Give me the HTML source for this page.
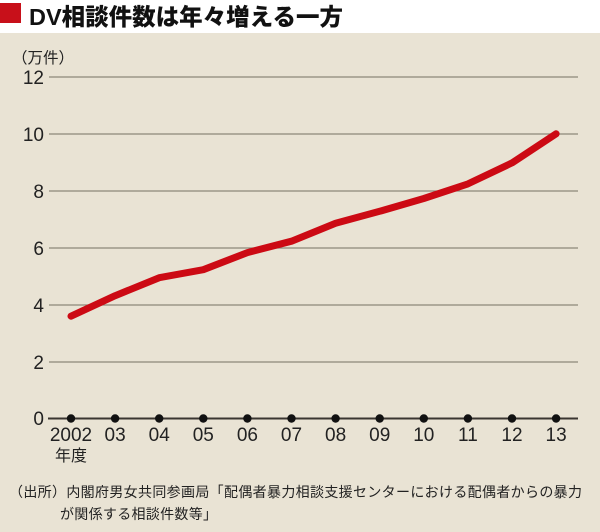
<!DOCTYPE html>
<html><head><meta charset="utf-8">
<style>
html,body{margin:0;padding:0;}
body{width:600px;height:532px;overflow:hidden;background:#e9e3d4;}
svg{display:block;}
</style></head>
<body>
<svg width="600" height="532" viewBox="0 0 600 532" xmlns="http://www.w3.org/2000/svg">
<rect x="0" y="0" width="600" height="532" fill="#e9e3d4"/>
<rect x="0" y="0" width="600" height="33" fill="#ffffff"/>
<rect x="0" y="3" width="21" height="20" fill="#c8101a"/>
<text x="29" y="25" font-family="'Liberation Sans','Noto Sans CJK JP',sans-serif" font-weight="900" font-size="23.5" fill="#111">DV相談件数は年々増える一方</text>

<text x="12" y="63" font-family="'Liberation Sans','Noto Sans CJK JP',sans-serif" font-size="15.5" fill="#222">（万件）</text>

<g stroke="#8d8779" stroke-width="1.3">
<line x1="49" y1="77" x2="578" y2="77"/>
<line x1="49" y1="134" x2="578" y2="134"/>
<line x1="49" y1="191" x2="578" y2="191"/>
<line x1="49" y1="248" x2="578" y2="248"/>
<line x1="49" y1="305" x2="578" y2="305"/>
<line x1="49" y1="362" x2="578" y2="362"/>
</g>
<line x1="48" y1="418.5" x2="578" y2="418.5" stroke="#3a3631" stroke-width="2"/>

<g font-family="'Liberation Sans',sans-serif" font-size="19" fill="#222" text-anchor="end">
<text x="44" y="84">12</text>
<text x="44" y="141">10</text>
<text x="44" y="198">8</text>
<text x="44" y="255">6</text>
<text x="44" y="312">4</text>
<text x="44" y="369">2</text>
<text x="44" y="425">0</text>
</g>

<polyline fill="none" stroke="#cc0a14" stroke-width="7" stroke-linecap="round" stroke-linejoin="round"
points="71,316.2 115.1,295.7 159.2,277.7 203.3,269.7 247.4,252.6 291.5,241.2 335.6,223.3 379.7,211.3 423.8,198.5 467.9,183.9 512,162.9 556.1,133.8"/>

<g fill="#111">
<circle cx="71" cy="418.5" r="4.2"/>
<circle cx="115.1" cy="418.5" r="4.2"/>
<circle cx="159.2" cy="418.5" r="4.2"/>
<circle cx="203.3" cy="418.5" r="4.2"/>
<circle cx="247.4" cy="418.5" r="4.2"/>
<circle cx="291.5" cy="418.5" r="4.2"/>
<circle cx="335.6" cy="418.5" r="4.2"/>
<circle cx="379.7" cy="418.5" r="4.2"/>
<circle cx="423.8" cy="418.5" r="4.2"/>
<circle cx="467.9" cy="418.5" r="4.2"/>
<circle cx="512" cy="418.5" r="4.2"/>
<circle cx="556.1" cy="418.5" r="4.2"/>
</g>

<g font-family="'Liberation Sans',sans-serif" font-size="19" fill="#222" text-anchor="middle">
<text x="71" y="441">2002</text>
<text x="115.1" y="441">03</text>
<text x="159.2" y="441">04</text>
<text x="203.3" y="441">05</text>
<text x="247.4" y="441">06</text>
<text x="291.5" y="441">07</text>
<text x="335.6" y="441">08</text>
<text x="379.7" y="441">09</text>
<text x="423.8" y="441">10</text>
<text x="467.9" y="441">11</text>
<text x="512" y="441">12</text>
<text x="556.1" y="441">13</text>
</g>
<text x="71" y="461" text-anchor="middle" font-family="'Liberation Sans','Noto Sans CJK JP',sans-serif" font-size="16" fill="#222">年度</text>

<g font-family="'Liberation Sans','Noto Sans CJK JP',sans-serif" font-size="14" fill="#222">
<text x="9" y="497" textLength="573" lengthAdjust="spacing">（出所）内閣府男女共同参画局「配偶者暴力相談支援センターにおける配偶者からの暴力</text>
<text x="60" y="519" letter-spacing="0.3">が関係する相談件数等」</text>
</g>
</svg>
</body></html>
